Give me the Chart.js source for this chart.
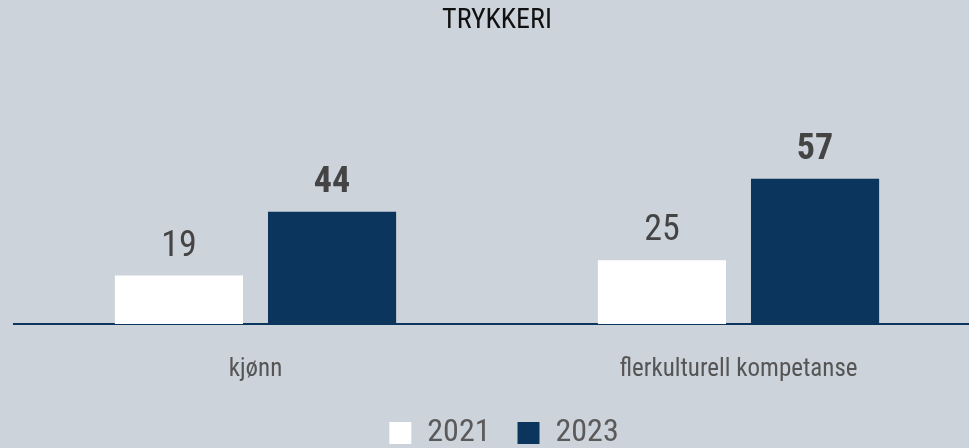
<!DOCTYPE html>
<html>
<head>
<meta charset="utf-8">
<script src="https://cdn.jsdelivr.net/npm/chart.js@4/dist/chart.umd.min.js"></script>
<style>
  html, body { margin: 0; padding: 0; background: #cdd3db; overflow: hidden; }
  #wrap { width: 980px; height: 459px; position: relative; }
</style>
</head>
<body>
<div id="wrap"><canvas id="c"></canvas></div>
<script>
const categories = ["kjønn", "flerkulturell kompetanse"];
const seriesNames = ["2021", "2023"];
const values2021 = [19, 25];
const values2023 = [44, 57];
const chartTitle = "TRYKKERI";

const FONT = "'Roboto Condensed', 'Liberation Sans Narrow', 'DejaVu Sans Condensed', 'Roboto', sans-serif";

const valueLabels = {
  id: 'valueLabels',
  afterDatasetsDraw(chart) {
    const ctx = chart.ctx;
    chart.data.datasets.forEach((ds, di) => {
      const meta = chart.getDatasetMeta(di);
      meta.data.forEach((bar, i) => {
        ctx.save();
        ctx.font = (di === 1 ? 'bold ' : 'normal ') + '36px ' + FONT;
        ctx.fillStyle = '#444444';
        ctx.textAlign = 'center';
        ctx.textBaseline = 'alphabetic';
        ctx.fillText(String(ds.data[i]), bar.x, bar.y - 20);
        ctx.restore();
      });
    });
  }
};

const legendShift = {
  id: 'legendShift',
  afterLayout(chart) {
    if (chart.legend) { chart.legend.left += 7; chart.legend.right += 7; }
  }
};

new Chart(document.getElementById('c'), {
  type: 'bar',
  data: {
    labels: categories,
    datasets: [
      { label: seriesNames[0], data: values2021, backgroundColor: '#ffffff', borderWidth: 0,
        barPercentage: 0.837, categoryPercentage: 0.634 },
      { label: seriesNames[1], data: values2023, backgroundColor: '#0b355d', borderWidth: 0,
        barPercentage: 0.837, categoryPercentage: 0.634 }
    ]
  },
  options: {
    responsive: true,
    maintainAspectRatio: false,
    animation: false,
    layout: { padding: { left: 14, right: 0, top: 0, bottom: 0 } },
    plugins: {
      title: {
        display: true, text: chartTitle, color: '#111111',
        font: { family: FONT, size: 28, weight: 'normal' },
        padding: { top: 4, bottom: 31.4 }
      },
      legend: {
        position: 'bottom',
        labels: {
          color: '#5a5a5a',
          font: { family: FONT, size: 32 },
          boxWidth: 22, boxHeight: 22, padding: 27
        }
      },
      tooltip: { enabled: false }
    },
    scales: {
      x: {
        grid: { display: false, tickLength: 26 },
        border: { display: true, color: '#0b355d', width: 2 },
        ticks: { color: '#555555', font: { family: FONT, size: 25, lineHeight: 1.2 }, padding: 5 }
      },
      y: {
        display: false, min: 0, max: 100
      }
    }
  },
  plugins: [valueLabels, legendShift]
});
</script>
</body>
</html>
